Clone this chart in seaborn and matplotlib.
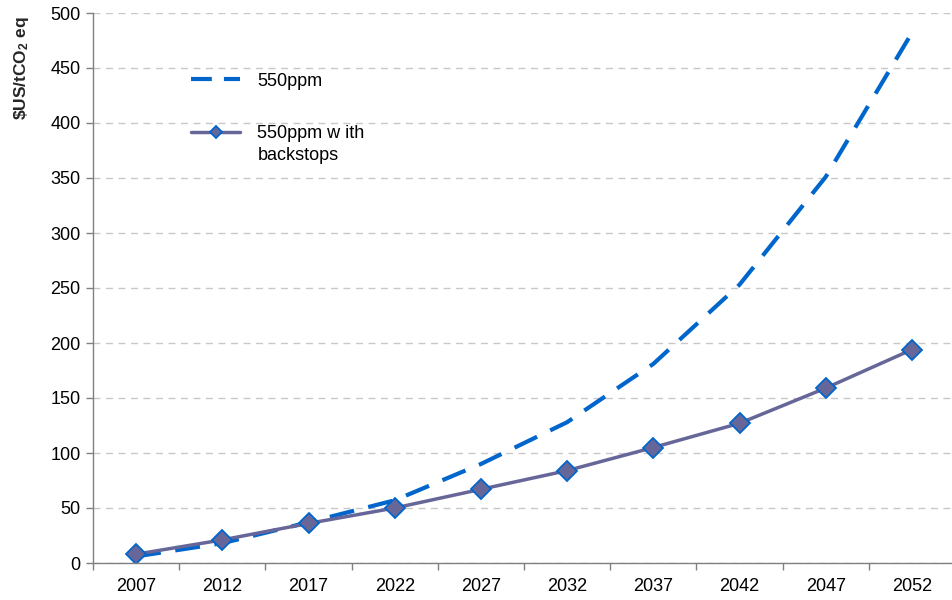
import numpy as np
import pandas as pd
import matplotlib
matplotlib.use("Agg")
import matplotlib.pyplot as plt
from matplotlib.transforms import IdentityTransform
import seaborn as sns

years = ["2007", "2012", "2017", "2022", "2027", "2032", "2037", "2042", "2047", "2052"]
ppm550 = [6, 18, 37, 57, 90, 128, 181, 253, 351, 482]
ppm550_backstops = [8, 21, 36, 50, 67, 84, 105, 127, 159, 194]
yticks = [0, 50, 100, 150, 200, 250, 300, 350, 400, 450, 500]

sns.set_theme(style="white")
plt.rcParams["font.family"] = ["Liberation Sans", "DejaVu Sans"]
plt.rcParams["mathtext.fontset"] = "custom"
plt.rcParams["mathtext.rm"] = "Liberation Sans:bold"
plt.rcParams["mathtext.bf"] = "Liberation Sans:bold"
plt.rcParams["mathtext.it"] = "Liberation Sans:bold"

df = pd.DataFrame({
    "pos": np.arange(len(years)),
    "year": years,
    "550ppm": ppm550,
    "backstops": ppm550_backstops,
})

fig = plt.figure(figsize=(9.52, 6.0), dpi=100)
ax = fig.add_axes([93 / 952, 1 - 563 / 600, 862 / 952, 550 / 600])

sns.lineplot(data=df, x="pos", y="550ppm", ax=ax, color="#0066CC",
             linewidth=3, dashes=False, label="550ppm")
ax.lines[-1].set_dashes([6, 3.5])
sns.lineplot(data=df, x="pos", y="backstops", ax=ax, color="#666699",
             linewidth=2.5, marker="D", markersize=10,
             markerfacecolor="#666699", markeredgecolor="#0066CC",
             markeredgewidth=1.3, label="550ppm w ith")

ax.set_xlim(-0.5, len(years) - 0.5)
ax.set_ylim(0, 500)
ax.set_xticks(df["pos"])
ax.set_xticklabels(years, fontsize=13, color="#000000")
ax.set_xticks(np.arange(len(years) + 1) - 0.5, minor=True)
ax.tick_params(axis="x", which="major", length=0, pad=11)
ax.tick_params(axis="x", which="minor", length=5, width=1, color="#808080", direction="out", bottom=True)
ax.set_yticks(yticks)
ax.set_yticklabels([str(v) for v in yticks], fontsize=13, color="#000000")
ax.tick_params(axis="y", which="major", length=5, width=1, color="#808080", direction="out", left=True, pad=4)

ax.yaxis.grid(True, linestyle=(0, (5, 4)), color="#C8C8C8", linewidth=1)
ax.xaxis.grid(False)
ax.set_axisbelow(True)

for s in ["top", "right"]:
    ax.spines[s].set_visible(False)
for s in ["left", "bottom"]:
    ax.spines[s].set_color("#808080")
    ax.spines[s].set_linewidth(1)

ax.set_xlabel("")
ax.set_ylabel("\\$US/tCO$_2$ eq", fontsize=12.5, fontweight="bold")
ax.yaxis.set_label_coords(-0.0715, 0.90)

leg = ax.legend(loc="upper left", bbox_to_anchor=(0.095, 0.921), frameon=False,
                fontsize=13, handlelength=2.7, labelspacing=1.97, handletextpad=0.97,
                markerscale=0.6)
for t in leg.get_texts():
    t.set_color("#000000")
leg.get_lines()[0].set_dashes([5, 2.9])

fig.canvas.draw()
renderer = fig.canvas.get_renderer()
bb = leg.get_texts()[1].get_window_extent(renderer)
fig.text(bb.x0, (bb.y0 + bb.y1) / 2 - 22, "backstops", fontsize=13, color="#000000",
         ha="left", va="center", transform=IdentityTransform())

fig.savefig("out.png", dpi=100)
